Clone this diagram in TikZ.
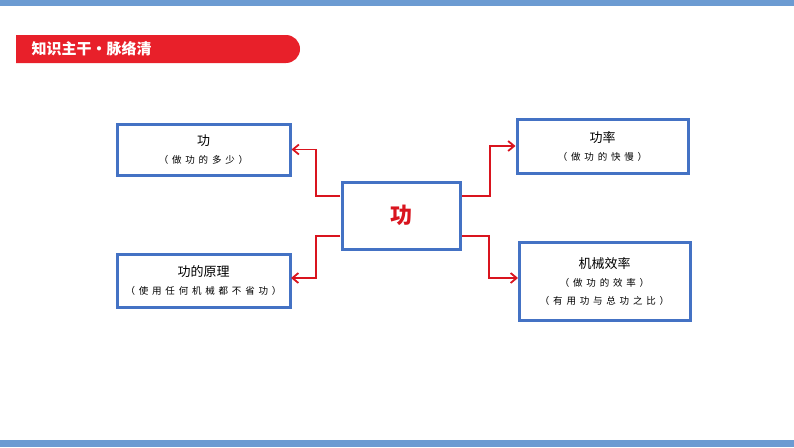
\documentclass[tikz,border=0pt]{standalone}
\usepackage{fontspec}
\setmainfont{Noto Sans CJK SC}
\newfontfamily\spaced[LetterSpace=40]{Noto Sans CJK SC}
\usetikzlibrary{arrows.meta}
\definecolor{bbar}{HTML}{6C9BD2}
\definecolor{bbox}{HTML}{4472C4}
\definecolor{rban}{HTML}{E8202A}
\definecolor{rline}{HTML}{D9141E}
\newcommand{\subt}[1]{{\spaced\fontsize{9.5}{12}\selectfont #1}}
\begin{document}
\begin{tikzpicture}[x=1pt,y=-1pt,
  bx/.style={draw=bbox,line width=3pt,fill=white,inner sep=0pt},
  conn/.style={draw=rline,line width=1.8pt,-{Straight Barb[length=6pt,width=10pt,line width=1.8pt]}},
  lab/.style={align=center,font=\fontsize{13}{16}\selectfont}]
\useasboundingbox (0,0) rectangle (794,447);
\fill[bbar] (0,0) rectangle (794,6);
\fill[bbar] (0,440) rectangle (794,447);
\fill[rban] (16,35) [rounded corners=14pt]-- (300,35) -- (300,63) [sharp corners]-- (16,63) -- cycle;
\node[anchor=west,text=white,font=\bfseries\fontsize{15}{18}\selectfont] (ban) at (28,49) {知识主干·脉络清};
\node[bx,minimum width=173pt,minimum height=51pt] (a) at (203.5,149.5) {};
\node[lab] (at) at (a) {功\\[2pt]\subt{（做功的多少）}};
\node[bx,minimum width=173pt,minimum height=53pt] (b) at (203.5,280.5) {};
\node[lab] (bt) at (b) {功的原理\\[2pt]\subt{（使用任何机械都不省功）}};
\node[bx,minimum width=171pt,minimum height=54pt] (c) at (602.5,146) {};
\node[lab] (ct) at (c) {功率\\[2pt]\subt{（做功的快慢）}};
\node[bx,minimum width=171pt,minimum height=78pt] (d) at (604.5,281) {};
\node[lab] (dt) at (d) {机械效率\\[2pt]\subt{（做功的效率）}\\[2pt]\subt{（有用功与总功之比）}};
\node[bx,minimum width=118pt,minimum height=67pt] (m) at (401,215.5) {};
\node[text=rline,font=\bfseries\fontsize{22}{26}\selectfont] (mt) at (m) {功};
\coordinate (m1) at (340,196); \coordinate (m2) at (340,236);
\coordinate (m3) at (462,196); \coordinate (m4) at (462,236);
\draw[conn] (m1) -- (316,196) |- (a.east);
\draw[conn] (m2) -- (316,236) |- (291,278);
\draw[conn] (m3) -- (490,196) |- (c.west);
\draw[conn] (m4) -- (489,236) |- (518,278);
\end{tikzpicture}
\end{document}
